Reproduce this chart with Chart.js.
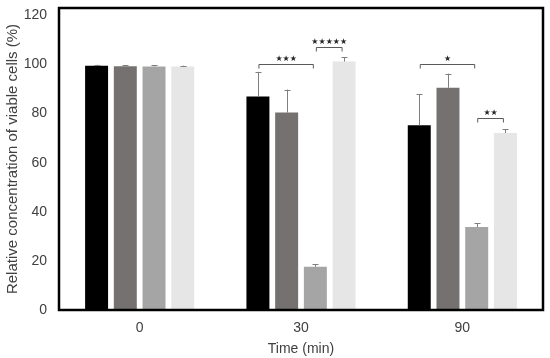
<!DOCTYPE html>
<html>
<head>
<title>Viable cells</title>
<script src="https://cdn.jsdelivr.net/npm/chart.js"></script>
<style>
    body { margin: 0; background: #fff; }
    #chartContainer { width: 550px; height: 358px; }
</style>
</head>
<body>
<div id="chartContainer">
    <canvas id="myChart"></canvas>
</div>
<script>
var categories = ['0', '30', '90'];
var yTicks = [0, 20, 40, 60, 80, 100, 120];

// bar heights, one array per group member
var series1 = [99.5, 87.0, 75.2];
var series2 = [99.3, 80.4, 90.5];
var series3 = [99.2, 17.6, 33.8];
var series4 = [99.2, 101.2, 72.1];

// upper error bars
var errors1 = [0.4, 10.0, 12.6];
var errors2 = [0.4, 9.4, 5.8];
var errors3 = [0.4, 1.0, 1.6];
var errors4 = [0.3, 1.8, 1.6];

// significance brackets: category, from series, to series, height, label
var brackets = [
    [1, 0, 2, 100, '★★★'],
    [1, 2, 3, 107, '★★★★★'],
    [2, 0, 2, 100, '★'],
    [2, 2, 3, 78, '★★']
];

var errorSets = [errors1, errors2, errors3, errors4];

var errorBars = {
    id: 'errorBars',
    afterDatasetsDraw: function(chart) {
        var ctx = chart.ctx;
        var y = chart.scales.y;
        ctx.save();
        ctx.strokeStyle = '#7f7f7f';
        ctx.lineWidth = 1;
        chart.data.datasets.forEach(function(ds, i) {
            var meta = chart.getDatasetMeta(i);
            meta.data.forEach(function(bar, j) {
                var top = y.getPixelForValue(ds.data[j] + errorSets[i][j]);
                var x = Math.round(bar.x) + 0.5;
                ctx.beginPath();
                ctx.moveTo(x, bar.y);
                ctx.lineTo(x, top);
                ctx.moveTo(x - 3, Math.round(top) + 0.5);
                ctx.lineTo(x + 3, Math.round(top) + 0.5);
                ctx.stroke();
            });
        });
        ctx.restore();
    }
};

var sigBrackets = {
    id: 'sigBrackets',
    afterDatasetsDraw: function(chart) {
        var ctx = chart.ctx;
        var y = chart.scales.y;
        ctx.save();
        ctx.strokeStyle = '#595959';
        ctx.fillStyle = '#262626';
        ctx.lineWidth = 1;
        ctx.font = '8px "DejaVu Sans", sans-serif';
        ctx.textAlign = 'center';
        ctx.textBaseline = 'middle';
        brackets.forEach(function(b) {
            var x1 = chart.getDatasetMeta(b[1]).data[b[0]].x + 1;
            var x2 = chart.getDatasetMeta(b[2]).data[b[0]].x - 2;
            var yy = Math.round(y.getPixelForValue(b[3])) + 0.5;
            ctx.beginPath();
            ctx.moveTo(x1, yy + 4);
            ctx.lineTo(x1, yy);
            ctx.lineTo(x2, yy);
            ctx.lineTo(x2, yy + 4);
            ctx.stroke();
            ctx.fillText(b[4], (x1 + x2) / 2, yy - 6);
        });
        ctx.restore();
    }
};

var frame = {
    id: 'frame',
    afterDraw: function(chart) {
        var a = chart.chartArea;
        var ctx = chart.ctx;
        ctx.save();
        ctx.strokeStyle = '#000';
        ctx.lineWidth = 2.5;
        ctx.strokeRect(a.left, a.top, a.right - a.left, a.bottom - a.top);
        ctx.restore();
    }
};

Chart.defaults.font.family = '"Liberation Sans", Arial, sans-serif';
Chart.defaults.color = '#404040';

var ctx = document.getElementById('myChart').getContext('2d');
var chart = new Chart(ctx, {
    type: 'bar',
    data: {
        labels: categories,
        datasets: [
            { data: series1, backgroundColor: '#000000' },
            { data: series2, backgroundColor: '#767171' },
            { data: series3, backgroundColor: '#a5a5a5' },
            { data: series4, backgroundColor: '#e7e6e6' }
        ]
    },
    options: {
        responsive: true,
        maintainAspectRatio: false,
        animation: false,
        categoryPercentage: 0.712,
        barPercentage: 0.8,
        layout: { padding: { top: 8, right: 7, left: 0, bottom: 0 } },
        plugins: {
            legend: { display: false },
            tooltip: { enabled: false }
        },
        scales: {
            x: {
                grid: { display: false, drawTicks: false },
                border: { display: false },
                ticks: { font: { size: 14 }, padding: 10 },
                title: { display: true, text: 'Time (min)', font: { size: 14 }, padding: { top: 2, bottom: 0 } },
                afterFit: function(scale) {
                    scale.height = 48;
                    scale.paddingLeft = 0;
                    scale.paddingRight = 0;
                }
            },
            y: {
                min: 0,
                max: 123,
                grid: { display: false, drawTicks: false },
                border: { display: false },
                ticks: { font: { size: 14 }, padding: 12, stepSize: 20 },
                afterBuildTicks: function(scale) {
                    scale.ticks = yTicks.map(function(v) { return { value: v }; });
                },
                title: { display: true, text: 'Relative concentration of viable cells (%)', font: { size: 15 }, padding: { top: 4, bottom: 0 } },
                afterFit: function(scale) {
                    scale.width = 59;
                    scale.paddingTop = 0;
                    scale.paddingBottom = 0;
                }
            }
        }
    },
    plugins: [errorBars, sigBrackets, frame]
});
</script>
</body>
</html>
